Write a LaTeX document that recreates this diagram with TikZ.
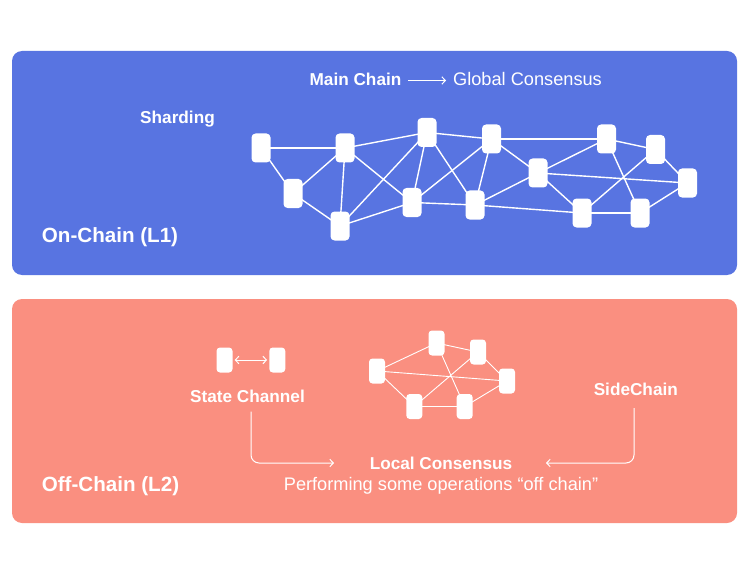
\documentclass[tikz,border=0pt]{standalone}
\usepackage{fontspec}
\setmainfont{Liberation Sans}
\usetikzlibrary{arrows.meta}
\definecolor{topblue}{RGB}{88,116,225}
\definecolor{botred}{RGB}{250,143,128}
\pgfdeclarelayer{panels}
\pgfdeclarelayer{edges}
\pgfsetlayers{panels,edges,main}
\begin{document}
\begin{tikzpicture}[x=1pt,y=-1pt,
  bignd/.style={rectangle, fill=white, rounded corners=4pt, minimum width=19pt, minimum height=29pt, inner sep=0pt},
  smallnd/.style={rectangle, fill=white, rounded corners=3.5pt, minimum width=16pt, minimum height=25pt, inner sep=0pt},
  link/.style={white, line width=1.4pt},
  slink/.style={white, line width=0.9pt},
  lbl/.style={text=white, inner sep=0pt, anchor=base, font=\bfseries\fontsize{17.2}{20}\selectfont},
  reg/.style={text=white, inner sep=0pt, anchor=base, font=\fontsize{18.2}{21}\selectfont},
  big/.style={text=white, inner sep=0pt, anchor=base, font=\bfseries\fontsize{20.6}{24}\selectfont},
  arr/.style={white, line width=1pt, -{Straight Barb[length=3.5pt,width=7.5pt]}},
  darr/.style={white, line width=1pt, {Straight Barb[length=3.5pt,width=7.5pt]}-{Straight Barb[length=3.5pt,width=7.5pt]}}
]
\useasboundingbox (0,0) rectangle (750,575);
% panels
\begin{pgfonlayer}{panels}
\fill[topblue, rounded corners=10pt] (12,51) rectangle (737,275);
\fill[botred, rounded corners=10pt] (12,299) rectangle (737,523);
\end{pgfonlayer}

% top labels
\node[lbl] (mc) at (355.5,86) {Main Chain};
\node[reg] (gc) at (527.5,86) {Global Consensus};
\node[lbl] (sh) at (177.5,124) {Sharding};
\node[big] (l1) at (110,242.3) {On-Chain (L1)};
\coordinate (mca) at (408,80.5);
\coordinate (gca) at (446,80.5);
\draw[arr] (mca) -- (gca);

% top network nodes
\node[bignd] (A) at (261,148) {};
\node[bignd] (B) at (345,148) {};
\node[bignd] (C) at (293,193.5) {};
\node[bignd] (D) at (340,226) {};
\node[bignd] (E) at (427,132.5) {};
\node[bignd] (F) at (491.5,139) {};
\node[bignd] (G) at (412,202.5) {};
\node[bignd] (H) at (475,205) {};
\node[bignd] (I) at (538,173) {};
\node[bignd] (J) at (606.5,139) {};
\node[bignd] (K) at (655.5,149.5) {};
\node[bignd] (L) at (687.5,183) {};
\node[bignd] (M) at (582,213) {};
\node[bignd] (N) at (640,213) {};

\begin{pgfonlayer}{edges}
\foreach \a/\b in {A/B,A/C,B/C,B/D,B/E,B/G,C/D,D/E,D/G,E/F,E/G,E/H,F/G,F/H,G/H,H/I,F/J,F/I,H/M,I/J,I/L,I/M,J/K,J/N,K/M,K/L,M/N,N/L}
  \draw[link] (\a.center) -- (\b.center);
\end{pgfonlayer}

% bottom labels
\node[lbl] (sc) at (247.5,402.3) {State Channel};
\node[lbl] (sd) at (635.8,395) {SideChain};
\node[lbl] (lc) at (441,469) {Local Consensus};
\node[reg] (pf) at (441,490.7) {Performing some operations “off chain”};
\node[big] (l2) at (110.5,491.7) {Off-Chain (L2)};

% state channel
\node[smallnd] (S1) at (224.5,360) {};
\node[smallnd] (S2) at (277.3,360) {};
\draw[darr, shorten <=2pt, shorten >=2pt] (S1.east) -- (S2.west);

% bottom network
\node[smallnd] (P1) at (377,371) {};
\node[smallnd] (P2) at (436.5,343) {};
\node[smallnd] (P3) at (478,352) {};
\node[smallnd] (P4) at (507,381) {};
\node[smallnd] (P5) at (414.3,406.5) {};
\node[smallnd] (P6) at (464.7,406.5) {};
\begin{pgfonlayer}{edges}
\foreach \a/\b in {P1/P2,P1/P4,P1/P5,P2/P3,P2/P6,P3/P5,P3/P4,P4/P6,P5/P6}
  \draw[slink] (\a.center) -- (\b.center);
\end{pgfonlayer}

% arrows to local consensus
\coordinate (ls) at (251,411.5);
\coordinate (lc1) at (251,463);
\coordinate (le) at (334,463);
\coordinate (rs) at (634,408);
\coordinate (rc1) at (634,463);
\coordinate (re) at (546,463);
\draw[arr, rounded corners=8pt] (ls) -- (lc1) -- (le);
\draw[arr, rounded corners=8pt] (rs) -- (rc1) -- (re);
\end{tikzpicture}
\end{document}
